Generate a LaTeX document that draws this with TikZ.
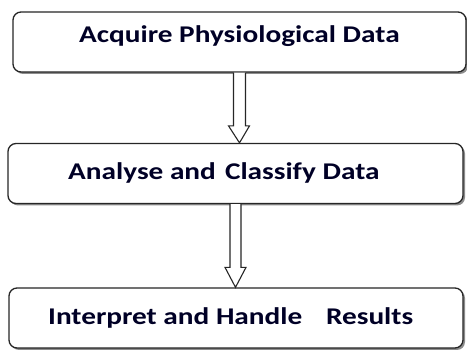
\documentclass[tikz,border=0pt]{standalone}
\usepackage{fontspec}
\setmainfont{Carlito}
\usetikzlibrary{shadows,calc}
\tikzset{
  stage/.style={draw=black!85, line width=1.3pt, rounded corners=8pt, fill=white,
    drop shadow={shadow xshift=2pt, shadow yshift=-2pt, fill=black!45, opacity=1},
    minimum height=60pt, inner sep=0pt},
  lbl/.style={font=\fontsize{24}{28}\selectfont\bfseries, text=black!85!blue, inner sep=0pt, anchor=base west}
}
\newcommand{\wide}[1]{\scalebox{1.22}[1]{#1}}
\tikzset{hollow/.style={draw=black!85, line width=1.1pt, fill=white, line join=miter}}
\begin{document}
\begin{tikzpicture}[x=1pt,y=1pt]
\useasboundingbox (0,0) rectangle (467,351);
\node[stage, minimum width=453pt] (a) at (239.5,309) {};
\node[stage, minimum width=455pt] (b) at (235.5,177.5) {};
\node[stage, minimum width=454pt] (c) at (236,33) {};
\node[lbl] (ta) at (79,308) {\wide{Acquire Physiological Data}};
\node[lbl] (tb) at (68,171) {\wide{Analyse and\hspace{2pt} Classify Data}};
\node[lbl] (tc) at (48,26) {\wide{Interpret and Handle\hspace{14pt} Results}};
% arrow a -> b
\draw[hollow] let \p1=(a.south), \p2=(b.north) in
  (\x1-6,\y1) -- (\x1-6,\y2+17) -- (\x1-11,\y2+17) -- (\x1,\y2) -- (\x1+10,\y2+17) -- (\x1+6,\y2+17) -- (\x1+6,\y1);
% arrow b -> c
\draw[hollow] let \p1=(b.south), \p2=(c.north) in
  (\x1-5.5,\y1) -- (\x1-5.5,\y2+20) -- (\x1-10.5,\y2+20) -- (\x1,\y2) -- (\x1+10.5,\y2+20) -- (\x1+5.5,\y2+20) -- (\x1+5.5,\y1);
\end{tikzpicture}
\end{document}
